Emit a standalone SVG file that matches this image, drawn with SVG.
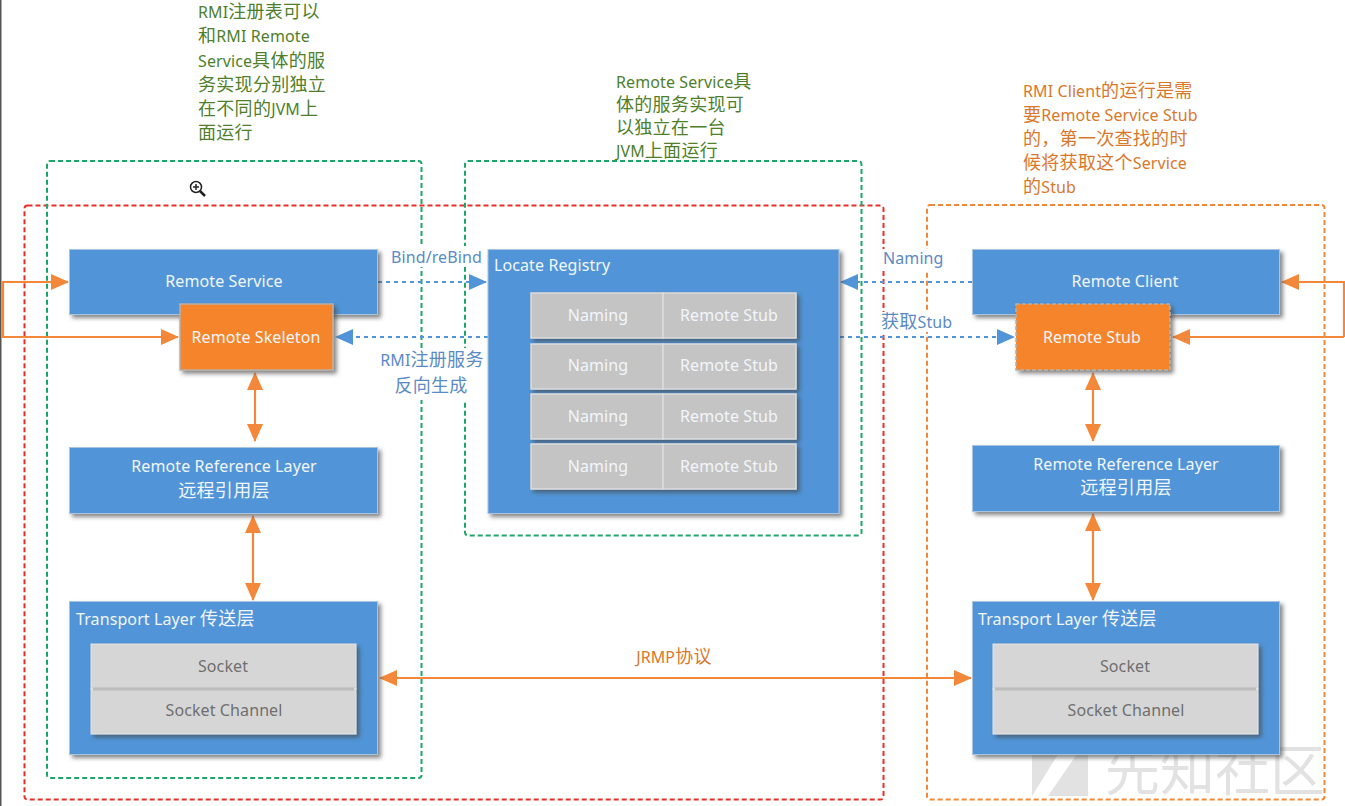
<svg xmlns="http://www.w3.org/2000/svg" width="1345" height="806" viewBox="0 0 1345 806">
<style>
text{font-family:"Noto Sans","Noto Sans CJK SC","DejaVu Sans",sans-serif;font-size:16px;letter-spacing:.1px}
tspan{font-size:18px;letter-spacing:.3px}
.c{text-anchor:middle}
.w{fill:#f2f6fb}
.g{fill:#6f6f6f}
.b{fill:#5b8ac4}
.gn{fill:#4f7f2c}
.o{fill:#d9782b}
.blue{fill:#5195d8;stroke:#a9c4de;stroke-width:1;filter:url(#sh)}
.org{fill:#f6842b;stroke:#b9b0a6;stroke-width:1.5;filter:url(#sh)}
.gray{fill:#c4c4c4;stroke:#dcdcdc;stroke-width:1.5}
.lg{fill:#d6d6d6;stroke:#e4e4e4;stroke-width:1}
.box{fill:none;stroke-width:2;stroke-dasharray:5 3}
.ol{fill:none;stroke:#f4883a;stroke-width:2.2}
.bl{fill:none;stroke:#5195d8;stroke-width:2.2;stroke-dasharray:4 4}
.lb{fill:#fff}
</style>
<defs>
<filter id="sh" x="-10%" y="-15%" width="125%" height="135%"><feDropShadow dx="3" dy="3" stdDeviation="2" flood-color="#444" flood-opacity=".65"/></filter>
<marker id="ao" viewBox="0 0 18 16" refX="17" refY="8" markerWidth="18" markerHeight="16" markerUnits="userSpaceOnUse" orient="auto-start-reverse"><path d="M0 0L18 8L0 16z" fill="#f4883a"/></marker>
<marker id="ab" viewBox="0 0 18 16" refX="17" refY="8" markerWidth="18" markerHeight="16" markerUnits="userSpaceOnUse" orient="auto-start-reverse"><path d="M0 0L18 8L0 16z" fill="#5195d8"/></marker>
</defs>
<rect width="1345" height="806" fill="#fff"/>
<rect x="0" y="0" width="1.5" height="806" fill="#555"/>

<g id="watermark" fill="#e2e2e2">
<path d="M1032 748H1062L1032 796zM1088 738V796H1048z"/>
<text x="1105" y="790" style="font-size:55px;letter-spacing:0;fill:#e2e2e2">先知社区</text>
</g>

<g id="regions">
<rect class="box" x="24.500" y="205.500" width="859" height="594" rx="3" stroke="#e8302a"/>
<rect class="box" x="47" y="161" width="374.500" height="617" rx="3" stroke="#1fa56a"/>
<rect class="box" x="465" y="161" width="396.500" height="374.500" rx="3" stroke="#1fa56a"/>
<rect class="box" x="927" y="205" width="397.500" height="594.500" rx="3" stroke="#f4883a"/>
</g>

<g id="connectors">
<path class="bl" d="M378 282H486" marker-end="url(#ab)"/>
<path class="bl" d="M488 337H336" marker-end="url(#ab)"/>
<path class="bl" d="M972 282H841" marker-end="url(#ab)"/>
<path class="bl" d="M840 337H1014" marker-end="url(#ab)"/>
<path class="ol" d="M68 282H3V337H178" marker-end="url(#ao)"/>
<path class="ol" d="M50 282H68" marker-end="url(#ao)"/>
<path class="ol" d="M1344 337V282H1282" marker-end="url(#ao)"/>
<path class="ol" d="M1344 337H1173" marker-end="url(#ao)"/>
<path class="ol" d="M255 373V441" marker-start="url(#ao)" marker-end="url(#ao)"/>
<path class="ol" d="M253 516V600" marker-start="url(#ao)" marker-end="url(#ao)"/>
<path class="ol" d="M1093 373V441" marker-start="url(#ao)" marker-end="url(#ao)"/>
<path class="ol" d="M1093 514V600" marker-start="url(#ao)" marker-end="url(#ao)"/>
<path class="ol" d="M380 678H971" marker-start="url(#ao)" marker-end="url(#ao)"/>
</g>

<g id="labels">
<rect class="lb" x="390" y="246" width="94" height="21"/>
<text class="b" x="391" y="263">Bind/reBind</text>
<rect class="lb" x="378" y="348" width="108" height="52"/>
<text class="b c" x="432" y="366">RMI<tspan>注册服务</tspan></text>
<text class="b c" x="431" y="392"><tspan>反向生成</tspan></text>
<rect class="lb" x="882" y="249" width="60" height="21"/>
<text class="b" x="883" y="264">Naming</text>
<rect class="lb" x="880" y="312" width="72" height="20"/>
<text class="b" x="881" y="328"><tspan>获取</tspan>Stub</text>
<text class="o c" x="674" y="663">JRMP<tspan>协议</tspan></text>
</g>

<g id="notes">
<text class="gn" x="198" y="18">RMI<tspan>注册表可以</tspan></text>
<text class="gn" x="198" y="42"><tspan>和</tspan>RMI Remote</text>
<text class="gn" x="198" y="67">Service<tspan>具体的服</tspan></text>
<text class="gn" x="198" y="91"><tspan>务实现分别独立</tspan></text>
<text class="gn" x="198" y="115"><tspan>在不同的</tspan>JVM<tspan>上</tspan></text>
<text class="gn" x="198" y="139"><tspan>面运行</tspan></text>
<text class="gn" x="616" y="88">Remote Service<tspan>具</tspan></text>
<text class="gn" x="616" y="111"><tspan>体的服务实现可</tspan></text>
<text class="gn" x="616" y="134"><tspan>以独立在一台</tspan></text>
<text class="gn" x="616" y="157">JVM<tspan>上面运行</tspan></text>
<text class="o" x="1023" y="97">RMI Client<tspan>的运行是需</tspan></text>
<text class="o" x="1023" y="121"><tspan>要</tspan>Remote Service Stub</text>
<text class="o" x="1023" y="145"><tspan>的，第一次查找的时</tspan></text>
<text class="o" x="1023" y="169"><tspan>候将获取这个</tspan>Service</text>
<text class="o" x="1023" y="193"><tspan>的</tspan>Stub</text>
</g>

<g id="remote-service"><rect class="blue" x="69.500" y="249.500" width="308" height="65"/><text class="w c" x="224" y="287">Remote Service</text></g>
<g id="remote-skeleton"><rect class="org" x="180" y="304" width="153" height="66"/><text class="w c" x="256" y="343">Remote Skeleton</text></g>
<g id="remote-reference-left"><rect class="blue" x="69.500" y="447.500" width="308" height="66"/><text class="w c" x="224" y="472">Remote Reference Layer</text><text class="w c" x="224" y="497"><tspan>远程引用层</tspan></text></g>
<g id="transport-left"><rect class="blue" x="69.500" y="601.500" width="308" height="153"/><text class="w" x="76" y="625">Transport Layer <tspan>传送层</tspan></text>
<rect class="lg" x="91" y="644" width="265" height="45" filter="url(#sh)"/><rect class="lg" x="91" y="689" width="265" height="45" filter="url(#sh)"/>
<path d="M93 689H354" stroke="#bcbcbc" stroke-width="3"/>
<text class="g c" x="223" y="672">Socket</text><text class="g c" x="224" y="716">Socket Channel</text></g>

<g id="locate-registry"><rect class="blue" x="488" y="249.500" width="351" height="264"/><text class="w" x="494" y="271">Locate Registry</text>
<g filter="url(#sh)">
<rect class="gray" x="531" y="293" width="132" height="45"/><rect class="gray" x="663" y="293" width="133" height="45"/>
<rect class="gray" x="531" y="344" width="132" height="45"/><rect class="gray" x="663" y="344" width="133" height="45"/>
<rect class="gray" x="531" y="394" width="132" height="45"/><rect class="gray" x="663" y="394" width="133" height="45"/>
<rect class="gray" x="531" y="444" width="132" height="45"/><rect class="gray" x="663" y="444" width="133" height="45"/>
</g>
<text class="w c" x="598" y="321">Naming</text><text class="w c" x="729" y="321">Remote Stub</text>
<text class="w c" x="598" y="371">Naming</text><text class="w c" x="729" y="371">Remote Stub</text>
<text class="w c" x="598" y="422">Naming</text><text class="w c" x="729" y="422">Remote Stub</text>
<text class="w c" x="598" y="472">Naming</text><text class="w c" x="729" y="472">Remote Stub</text>
</g>

<g id="remote-client"><rect class="blue" x="972.500" y="249.500" width="307" height="65"/><text class="w c" x="1125" y="287">Remote Client</text></g>
<g id="remote-stub"><rect class="org" x="1016" y="304" width="154" height="66" stroke-dasharray="4 2"/><text class="w c" x="1092" y="343">Remote Stub</text></g>
<g id="remote-reference-right"><rect class="blue" x="972.500" y="445.500" width="307" height="66"/><text class="w c" x="1126" y="470">Remote Reference Layer</text><text class="w c" x="1126" y="494"><tspan>远程引用层</tspan></text></g>
<g id="transport-right"><rect class="blue" x="972.500" y="601.500" width="307" height="153"/><text class="w" x="978" y="625">Transport Layer <tspan>传送层</tspan></text>
<rect class="lg" x="993" y="644" width="265" height="45" filter="url(#sh)"/><rect class="lg" x="993" y="689" width="265" height="45" filter="url(#sh)"/>
<path d="M995 689H1256" stroke="#bcbcbc" stroke-width="3"/>
<text class="g c" x="1125" y="672">Socket</text><text class="g c" x="1126" y="716">Socket Channel</text></g>

<g id="cursor" fill="none" stroke="#222">
<circle cx="196" cy="187" r="5.500" fill="#fff" stroke-width="1.500"/>
<path d="M193 187H199M196 184V190" stroke-width="1.500"/>
<path d="M200 191L205 196" stroke-width="2.500"/>
</g>
</svg>
